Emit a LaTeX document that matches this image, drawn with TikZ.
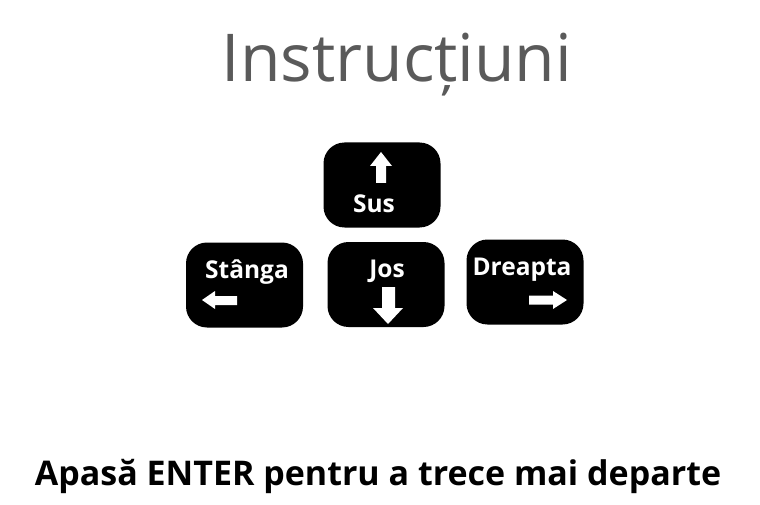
\documentclass[tikz,border=0pt]{standalone}
\usepackage{fontspec}
\setmainfont{Open Sans}
\definecolor{titlegray}{HTML}{5A5A5A}
\tikzset{
  key/.style={fill=black, rounded corners=21pt, minimum width=117pt, minimum height=85pt, inner sep=0pt},
  keylabel/.style={text=white, font=\fontsize{24.5}{24.5}\selectfont\bfseries, inner sep=0pt, anchor=base},
  keyarrow/.style={fill=white},
}
\begin{document}
\begin{tikzpicture}[x=1pt,y=-1pt]
    \useasboundingbox (0,0) rectangle (760,505);

    \node (title) at (397,82) [anchor=base, text=titlegray, inner sep=0pt, font=\fontsize{66}{66}\selectfont] {Instrucțiuni};

    % keys
    \node (sus) at (382,185) [key] {};
    \node (stanga) at (244.5,285) [key] {};
    \node (jos) at (386,284.5) [key] {};
    \node (dreapta) at (525,282) [key] {};

    \node (lsus) at (374,213) [keylabel] {Sus};
    \node (lstanga) at (247,278) [keylabel] {Stânga};
    \node (ljos) at (387,277) [keylabel] {Jos};
    \node (ldreapta) at (522,275) [keylabel] {Dreapta};

    % arrows
    \fill[keyarrow] (381,152) -- (392,166) -- (386,166) -- (386,183) -- (376,183) -- (376,166) -- (370,166) -- cycle;
    \fill[keyarrow] (388,324) -- (403,308) -- (395,308) -- (395,287) -- (382,287) -- (382,308) -- (373,308) -- cycle;
    \fill[keyarrow] (202,300) -- (215,291) -- (215,296) -- (237,296) -- (237,305) -- (215,305) -- (215,309) -- cycle;
    \fill[keyarrow] (567,300) -- (553,291) -- (553,295.5) -- (529,295.5) -- (529,304.5) -- (553,304.5) -- (553,309) -- cycle;

    \node (enter) at (378,485) [anchor=base, inner sep=0pt, font=\fontsize{34}{34}\selectfont\bfseries] {Apasă ENTER pentru a trece mai departe};
\end{tikzpicture}
\end{document}
